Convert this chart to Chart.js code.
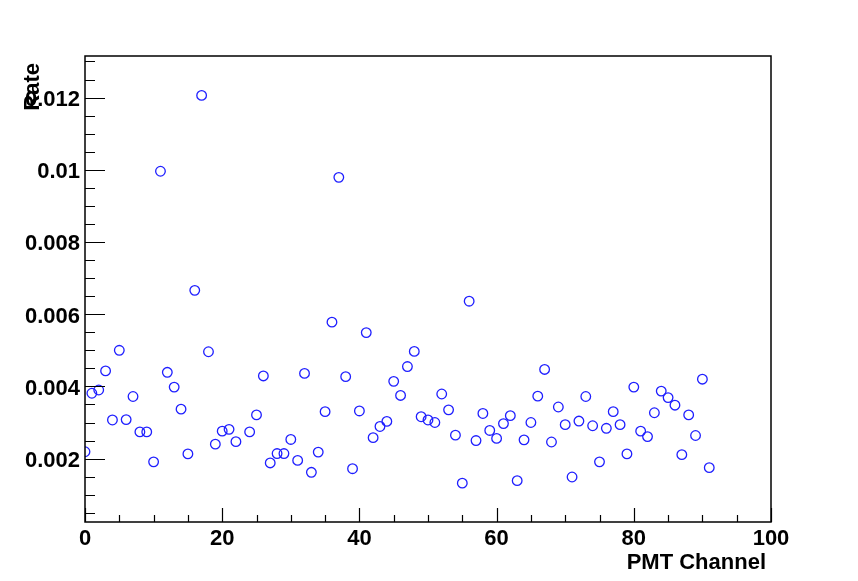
<!DOCTYPE html>
<html>
<head>
<meta charset="utf-8">
<script src="https://cdn.jsdelivr.net/npm/chart.js@4.4.0/dist/chart.umd.min.js"></script>
<style>
    html, body { margin: 0; padding: 0; background: #fff; }
    #wrap { width: 858px; height: 581px; }
</style>
</head>
<body>
<div id="wrap"><canvas id="rateChart" width="858" height="581"></canvas></div>
<script>
// Datos (el canal 23 no tiene punto)
const channels = [
    0, 1, 2, 3, 4, 5, 6, 7, 8, 9, 10, 11, 12, 13, 14, 15, 16, 17, 18, 19, 20, 21, 22,
    24, 25, 26, 27, 28, 29, 30, 31, 32, 33, 34, 35, 36, 37, 38, 39, 40, 41, 42, 43, 44,
    45, 46, 47, 48, 49, 50, 51, 52, 53, 54, 55, 56, 57, 58, 59, 60, 61, 62, 63, 64, 65,
    66, 67, 68, 69, 70, 71, 72, 73, 74, 75, 76, 77, 78, 79, 80, 81, 82, 83, 84, 85, 86,
    87, 88, 89, 90, 91
];
const rates = [
    0.00219, 0.00381, 0.00390, 0.00443, 0.00307, 0.00500, 0.00308, 0.00372, 0.00274, 0.00274,
    0.00191, 0.00996, 0.00439, 0.00398, 0.00337, 0.00213, 0.00666, 0.01206, 0.00496, 0.00240,
    0.00276, 0.00281, 0.00247,
    0.00274, 0.00321, 0.00429, 0.00188, 0.00214, 0.00214, 0.00253, 0.00195, 0.00436, 0.00162,
    0.00218, 0.00330, 0.00578, 0.00979, 0.00427, 0.00172, 0.00332, 0.00549, 0.00258, 0.00289,
    0.00303, 0.00414, 0.00375, 0.00455, 0.00497, 0.00316, 0.00307, 0.00300, 0.00379, 0.00335,
    0.00265, 0.00132, 0.00636, 0.00250, 0.00325, 0.00278, 0.00256, 0.00297, 0.00319, 0.00139,
    0.00252, 0.00300, 0.00373, 0.00447, 0.00246, 0.00343, 0.00294, 0.00149, 0.00304, 0.00372,
    0.00291, 0.00191, 0.00284, 0.00330, 0.00294, 0.00213, 0.00398, 0.00276, 0.00261, 0.00327,
    0.00387, 0.00369, 0.00348, 0.00211, 0.00321, 0.00264, 0.00420, 0.00175
];

// Marcas de los ejes
const xTicks = [0, 20, 40, 60, 80, 100];
const xTickLabels = ["0", "20", "40", "60", "80", "100"];
const yTicks = [0.002, 0.004, 0.006, 0.008, 0.01, 0.012];
const yTickLabels = ["0.002", "0.004", "0.006", "0.008", "0.01", "0.012"];
const xTitle = "PMT Channel";
const yTitle = "Rate";

const labelFont = "bold 22px 'Liberation Sans', Arial, sans-serif";

// Plugin que dibuja el marco, las marcas y los textos estilo ROOT
const rootAxes = {
    id: "rootAxes",
    afterDraw(chart) {
        const ctx = chart.ctx;
        const area = chart.chartArea;
        const xs = chart.scales.x;
        const ys = chart.scales.y;

        ctx.save();
        ctx.strokeStyle = "#000";
        ctx.lineWidth = 1.5;
        ctx.strokeRect(area.left, area.top, area.right - area.left, area.bottom - area.top);

        ctx.lineWidth = 1.2;
        ctx.beginPath();
        // marcas menores del eje x cada 5
        for (let v = 0; v <= 100; v += 5) {
            const px = Math.round(xs.getPixelForValue(v)) + 0.5;
            const len = v % 20 === 0 ? 14 : 7;
            ctx.moveTo(px, area.bottom);
            ctx.lineTo(px, area.bottom - len);
        }
        // marcas del eje y cada 0.0005
        for (let i = 1; i <= 26; i++) {
            const v = i * 0.0005;
            const py = Math.round(ys.getPixelForValue(v)) + 0.5;
            if (py < area.top) continue;
            const len = i % 4 === 0 ? 20 : 10;
            ctx.moveTo(area.left, py);
            ctx.lineTo(area.left + len, py);
        }
        ctx.stroke();

        ctx.fillStyle = "#000";
        ctx.font = labelFont;

        ctx.textAlign = "center";
        ctx.textBaseline = "alphabetic";
        xTicks.forEach((v, i) => {
            ctx.fillText(xTickLabels[i], xs.getPixelForValue(v), 545);
        });

        ctx.textAlign = "right";
        yTicks.forEach((v, i) => {
            ctx.fillText(yTickLabels[i], 80, ys.getPixelForValue(v) + 8.5);
        });

        // título del eje x
        ctx.fillText(xTitle, 766, 569);

        // título del eje y, girado
        ctx.translate(39, 63);
        ctx.rotate(-Math.PI / 2);
        ctx.textAlign = "right";
        ctx.fillText(yTitle, 0, 0);
        ctx.restore();
    },
};

const ctx = document.getElementById("rateChart").getContext("2d");

const rateChart = new Chart(ctx, {
    type: "scatter",
    data: {
        datasets: [
            {
                label: yTitle,
                data: channels.map((ch, i) => ({ x: ch, y: rates[i] })),
                pointStyle: "circle",
                pointRadius: 4.8,
                borderColor: "#1f1fff",
                backgroundColor: "rgba(0,0,0,0)",
                borderWidth: 1.3,
            },
        ],
    },
    options: {
        responsive: false,
        animation: false,
        layout: {
            padding: { left: 85, top: 56, right: 87, bottom: 59 },
        },
        scales: {
            x: { type: "linear", min: 0, max: 100, display: false },
            y: { type: "linear", min: 0.000244, max: 0.013152, display: false },
        },
        plugins: {
            legend: { display: false },
            tooltip: { enabled: false },
        },
    },
    plugins: [rootAxes],
});
</script>
</body>
</html>
